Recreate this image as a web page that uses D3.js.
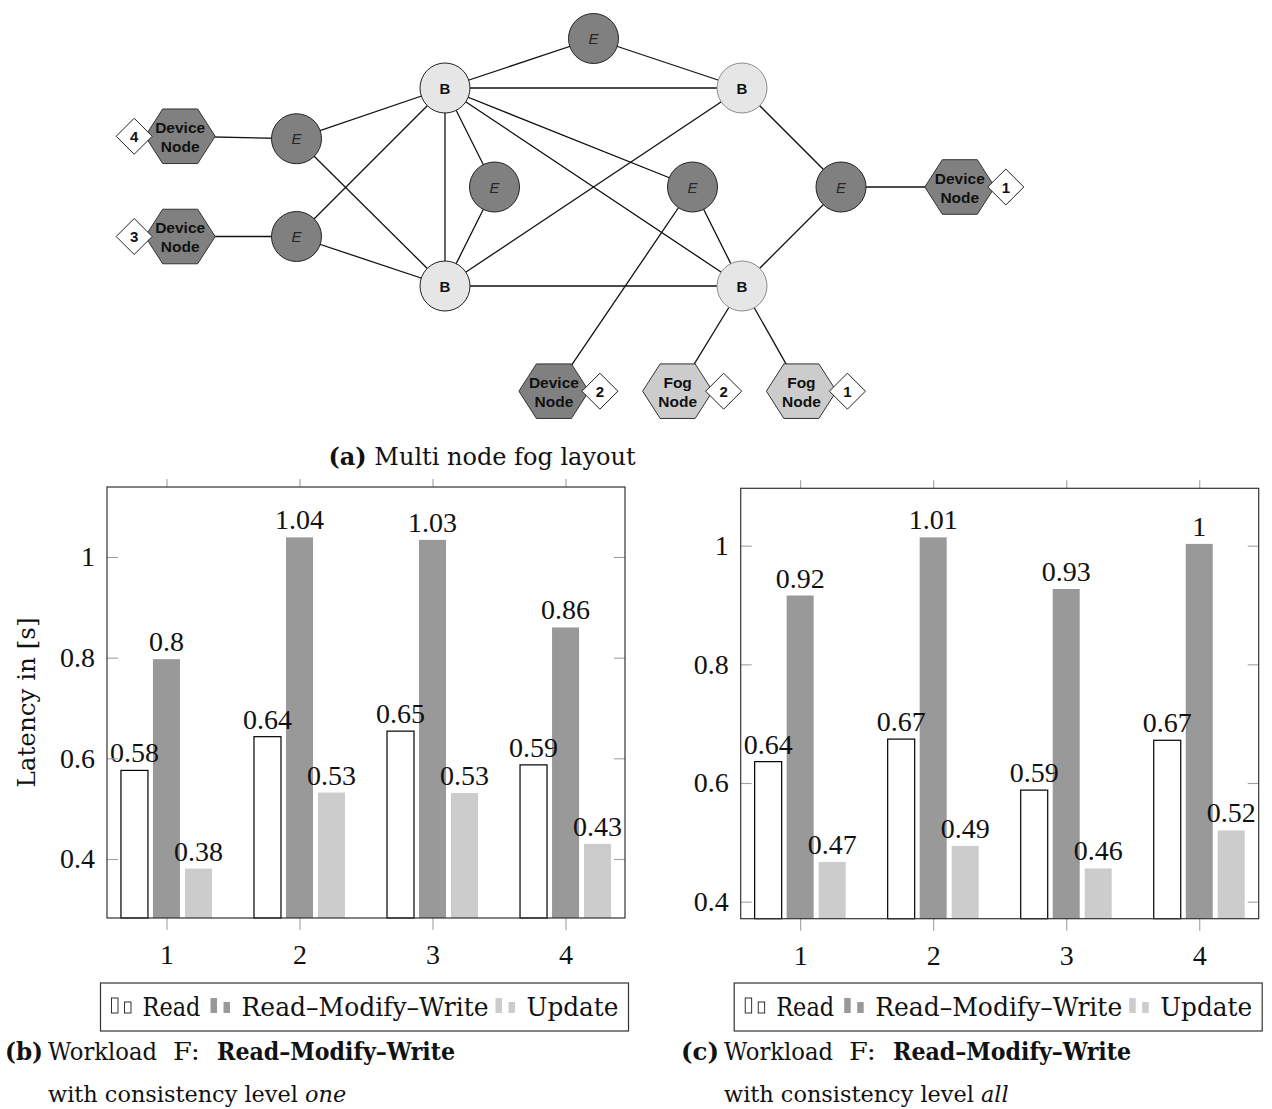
<!DOCTYPE html>
<html><head><meta charset="utf-8">
<script src="https://cdn.jsdelivr.net/npm/d3@7"></script>
<style>
body{margin:0;background:#fff;}
svg{display:block;}
</style></head><body>
<svg id="fig" width="1272" height="1109"></svg>
<script>
// ---------------- data ----------------
const categories = [1, 2, 3, 4];
const seriesNames = ["Read", "Read–Modify–Write", "Update"];
// (b) consistency level one
const readOne   = [0.576, 0.643, 0.654, 0.587];
const rmwOne    = [0.797, 1.039, 1.034, 0.860];
const updateOne = [0.381, 0.532, 0.531, 0.430];
// (c) consistency level all
const readAll   = [0.636, 0.674, 0.588, 0.672];
const rmwAll    = [0.916, 1.014, 0.927, 1.003];
const updateAll = [0.467, 0.494, 0.456, 0.520];
const yTickValues = [0.4, 0.6, 0.8, 1];
const yAxisTitle = "Latency in [s]";

// network layout (abstract layout units)
const netNodes = [
  {id: "B1", kind: "broker", label: "B", gx: 0, gy: 0},
  {id: "B2", kind: "broker", label: "B", gx: 12, gy: 0},
  {id: "B3", kind: "broker", label: "B", gx: 0, gy: 8},
  {id: "B4", kind: "broker", label: "B", gx: 12, gy: 8},
  {id: "Et", kind: "edge", label: "E", gx: 6, gy: -2},
  {id: "Eml", kind: "edge", label: "E", gx: 2, gy: 4},
  {id: "Emr", kind: "edge", label: "E", gx: 10, gy: 4},
  {id: "Elu", kind: "edge", label: "E", gx: -6, gy: 2.05},
  {id: "Ell", kind: "edge", label: "E", gx: -6, gy: 6},
  {id: "Er", kind: "edge", label: "E", gx: 16, gy: 4},
  {id: "DN4", kind: "device", label: "Device|Node", gx: -10.7, gy: 1.95, tag: "4", side: -1},
  {id: "DN3", kind: "device", label: "Device|Node", gx: -10.7, gy: 6, tag: "3", side: -1},
  {id: "DN1", kind: "device", label: "Device|Node", gx: 20.8, gy: 4, tag: "1", side: 1},
  {id: "DN2", kind: "device", label: "Device|Node", gx: 4.4, gy: 12.25, tag: "2", side: 1},
  {id: "FN2", kind: "fog", label: "Fog|Node", gx: 9.4, gy: 12.25, tag: "2", side: 1},
  {id: "FN1", kind: "fog", label: "Fog|Node", gx: 14.4, gy: 12.25, tag: "1", side: 1}
];
const netEdges = [
  ["B1","Et"],["Et","B2"],["B1","B2"],["B1","B3"],["B1","Eml"],["Eml","B3"],
  ["B1","Emr"],["B1","B4"],["B3","B2"],["B3","B4"],["Emr","B4"],["Emr","DN2"],
  ["B2","Er"],["Er","B4"],["Er","DN1"],["B4","FN2"],["B4","FN1"],
  ["Elu","DN4"],["Ell","DN3"],["Elu","B1"],["Elu","B3"],["Ell","B1"],["Ell","B3"]
];

// ---------------- styles ----------------
const numFont = "'Liberation Serif','Times New Roman',serif";
const textFont = "'DejaVu Serif',serif";
const sansFont = "'Liberation Sans',Arial,sans-serif";
const seriesFill = ["#ffffff", "#999999", "#cccccc"];
const seriesStroke = ["#000000", "none", "none"];
const lightOutline = new Set(["B2","B4"]);

const svg = d3.select("#fig");
svg.append("rect").attr("width",1272).attr("height",1109).attr("fill","#fff");

// helper: text fitted to a given width
function fitText(parent, str, x, y, w, opts = {}) {
  const t = parent.append("text").attr("x", x).attr("y", y)
    .attr("font-family", opts.family || textFont).attr("font-size", opts.size || 24)
    .attr("fill", "#111").text(str);
  if (opts.weight) t.attr("font-weight", opts.weight);
  if (opts.style) t.attr("font-style", opts.style);
  if (opts.anchor) t.attr("text-anchor", opts.anchor);
  if (w) t.attr("textLength", w).attr("lengthAdjust", "spacingAndGlyphs");
  return t;
}

// ---------------- network diagram ----------------
const gx = d3.scaleLinear().domain([0, 12]).range([445, 742]);
const gy = d3.scaleLinear().domain([0, 8]).range([88, 286]);
const byId = new Map(netNodes.map(d => [d.id, d]));
const net = svg.append("g");

net.selectAll("line.edge").data(netEdges).join("line")
  .attr("class","edge")
  .attr("x1", d => gx(byId.get(d[0]).gx)).attr("y1", d => gy(byId.get(d[0]).gy))
  .attr("x2", d => gx(byId.get(d[1]).gx)).attr("y2", d => gy(byId.get(d[1]).gy))
  .attr("stroke", "#111").attr("stroke-width", 1.3);

const hexUnit = d3.range(6).map(i => [Math.cos(i * Math.PI / 3), Math.sin(i * Math.PI / 3)]);
const hexPath = (cx, cy) => d3.line()(hexUnit.map(p => [cx + p[0] * 35, cy + p[1] * 31.5])) + "Z";
const diamondPath = (cx, cy) => d3.line()([[cx - 18, cy], [cx, cy - 18], [cx + 18, cy], [cx, cy + 18]]) + "Z";

const hexNodes = netNodes.filter(d => d.kind === "device" || d.kind === "fog");
const hg = net.selectAll("g.hex").data(hexNodes).join("g").attr("class","hex");
hg.append("path")
  .attr("d", d => hexPath(gx(d.gx), gy(d.gy)))
  .attr("fill", d => d.kind === "device" ? "#808080" : "#cccccc")
  .attr("stroke", "#333").attr("stroke-width", 1);
hg.each(function(d){
  const lines = d.label.split("|");
  const t = d3.select(this).append("text")
    .attr("font-family", sansFont).attr("font-weight","bold").attr("font-size", 15.5)
    .attr("fill", "#111").attr("text-anchor","middle");
  lines.forEach((s, i) => t.append("tspan").attr("x", gx(d.gx)).attr("y", gy(d.gy) - 3.5 + i * 19).text(s));
});
hg.append("path")
  .attr("d", d => diamondPath(gx(d.gx) + d.side * 46, gy(d.gy)))
  .attr("fill", "#fff").attr("stroke", "#222").attr("stroke-width", 1);
hg.append("text")
  .attr("x", d => gx(d.gx) + d.side * 46).attr("y", d => gy(d.gy) + 5.5)
  .attr("text-anchor","middle").attr("font-family", sansFont).attr("font-weight","bold")
  .attr("font-size", 15).attr("fill","#111").text(d => d.tag);

const circNodes = netNodes.filter(d => d.kind === "broker" || d.kind === "edge");
const cg = net.selectAll("g.circ").data(circNodes).join("g").attr("class","circ");
cg.append("circle")
  .attr("cx", d => gx(d.gx)).attr("cy", d => gy(d.gy)).attr("r", 25)
  .attr("fill", d => d.kind === "broker" ? "#e6e6e6" : "#808080")
  .attr("stroke", d => lightOutline.has(d.id) ? "#8c8c8c" : "#222").attr("stroke-width", 1);
cg.append("text")
  .attr("x", d => gx(d.gx)).attr("y", d => gy(d.gy) + 5.5)
  .attr("text-anchor","middle").attr("font-family", sansFont)
  .attr("font-weight", d => d.kind === "broker" ? "bold" : "normal")
  .attr("font-style", d => d.kind === "edge" ? "italic" : "normal")
  .attr("font-size", 15).attr("fill", d => d.kind === "broker" ? "#111" : "#262626")
  .text(d => d.label);

// caption (a)
const capA = svg.append("text").attr("x", 482).attr("y", 465).attr("text-anchor","middle")
  .attr("font-family", textFont).attr("font-size", 24).attr("fill","#111");
capA.append("tspan").attr("font-weight","bold").text("(a)");
capA.append("tspan").text(" Multi node fog layout");

// ---------------- bar charts ----------------
function barChart(cfg) {
  const g = svg.append("g");
  const W = 518;
  const x = d3.scaleLinear().domain([0.553, 4.447]).range([cfg.left, cfg.left + W]);
  const y = d3.scaleLinear().domain(cfg.yDomain).range([cfg.bottom, cfg.top]);
  const offsets = [-0.2406, 0, 0.2406];
  const bw = x(0.203) - x(0);
  const fmt = v => String(+v.toFixed(2));

  cfg.series.forEach((vals, si) => {
    g.append("g").selectAll("rect").data(vals).join("rect")
      .attr("x", (v, i) => x(categories[i] + offsets[si]) - bw / 2)
      .attr("y", v => y(v))
      .attr("width", bw)
      .attr("height", v => y(cfg.yDomain[0]) - y(v))
      .attr("fill", seriesFill[si])
      .attr("stroke", seriesStroke[si]).attr("stroke-width", 1.2);
  });
  cfg.series.forEach((vals, si) => {
    g.append("g").selectAll("text").data(vals).join("text")
      .attr("x", (v, i) => x(categories[i] + offsets[si]))
      .attr("y", v => y(v) - 8)
      .attr("text-anchor","middle").attr("font-family", numFont).attr("font-size", 28)
      .attr("fill","#111").text(fmt);
  });

  const styleAxis = (sel) => {
    sel.select(".domain").remove();
    sel.selectAll(".tick line").attr("stroke", "#a0a0a0").attr("stroke-width", 1.1);
    sel.selectAll(".tick text").attr("font-family", numFont).attr("font-size", 28).attr("fill","#111");
  };
  g.append("g").attr("transform", `translate(${cfg.left},0)`)
    .call(d3.axisLeft(y).tickValues(yTickValues).tickSize(-11).tickPadding(12).tickFormat(d => String(d)))
    .call(styleAxis);
  g.append("g").attr("transform", `translate(${cfg.left + W},0)`)
    .call(d3.axisRight(y).tickValues(yTickValues).tickSize(-11).tickFormat(""))
    .call(styleAxis);
  g.append("g").attr("transform", `translate(0,${cfg.bottom})`)
    .call(d3.axisBottom(x).tickValues(categories).tickSize(12).tickPadding(14).tickFormat(d => String(d)))
    .call(styleAxis);
  g.append("g").attr("transform", `translate(0,${cfg.top})`)
    .call(d3.axisTop(x).tickValues(categories).tickSize(8).tickFormat(""))
    .call(styleAxis);

  g.append("rect").attr("x", cfg.left).attr("y", cfg.top)
    .attr("width", W).attr("height", cfg.bottom - cfg.top)
    .attr("fill","none").attr("stroke","#333").attr("stroke-width", 1.2);

  // legend
  const lx = cfg.left - 6.5, ly = 983;
  const lg = g.append("g");
  lg.append("rect").attr("x", lx).attr("y", ly).attr("width", 528).attr("height", 48)
    .attr("fill","#fff").attr("stroke","#333").attr("stroke-width", 1.2);
  const legendTextX = [42, 141, 426];     // offsets of entry text from box left
  const legendTextW = [58, 247, 92];
  seriesNames.forEach((name, si) => {
    const tx = lx + legendTextX[si];
    const base = 1013;
    lg.append("rect").attr("x", tx - 31).attr("y", base - 15).attr("width", 6.5).attr("height", 15)
      .attr("fill", seriesFill[si]).attr("stroke", si === 0 ? "#000" : "none").attr("stroke-width", 0.8);
    lg.append("rect").attr("x", tx - 18).attr("y", base - 11).attr("width", 6.5).attr("height", 11)
      .attr("fill", seriesFill[si]).attr("stroke", si === 0 ? "#000" : "none").attr("stroke-width", 0.8);
    fitText(lg, name, tx, 1016, legendTextW[si], {size: 25.5});
  });

  // y title
  if (cfg.yTitle) {
    g.append("text").attr("transform", `translate(35,${(cfg.top + cfg.bottom) / 2}) rotate(-90)`)
      .attr("text-anchor","middle").attr("font-family", textFont).attr("font-size", 25)
      .attr("textLength", 170).attr("lengthAdjust","spacingAndGlyphs")
      .attr("fill","#111").text(cfg.yTitle);
  }

  // caption
  const c = cfg.caption, cx0 = c.x;
  fitText(g, c.tag, cx0, 1060, 38, {weight: "bold", size: 24});
  fitText(g, "Workload", cx0 + 43, 1060, 109, {size: 24.5});
  fitText(g, "F:", cx0 + 168, 1060, 27, {size: 24.5});
  fitText(g, "Read–Modify–Write", cx0 + 212, 1060, 238, {weight: "bold", size: 24.5});
  const l2 = g.append("text").attr("x", cx0 + 43).attr("y", 1102)
    .attr("font-family", textFont).attr("font-size", 22.4).attr("fill", "#111");
  l2.append("tspan").text("with consistency level ");
  l2.append("tspan").attr("font-style", "italic").text(c.level);
}

barChart({
  left: 107, top: 487, bottom: 918, yDomain: [0.2828, 1.139],
  series: [readOne, rmwOne, updateOne], yTitle: yAxisTitle,
  caption: {x: 5, tag: "(b)", level: "one"}
});
barChart({
  left: 740.7, top: 488.3, bottom: 918.7, yDomain: [0.3713, 1.0967],
  series: [readAll, rmwAll, updateAll], yTitle: null,
  caption: {x: 681, tag: "(c)", level: "all"}
});
</script>
</body></html>
